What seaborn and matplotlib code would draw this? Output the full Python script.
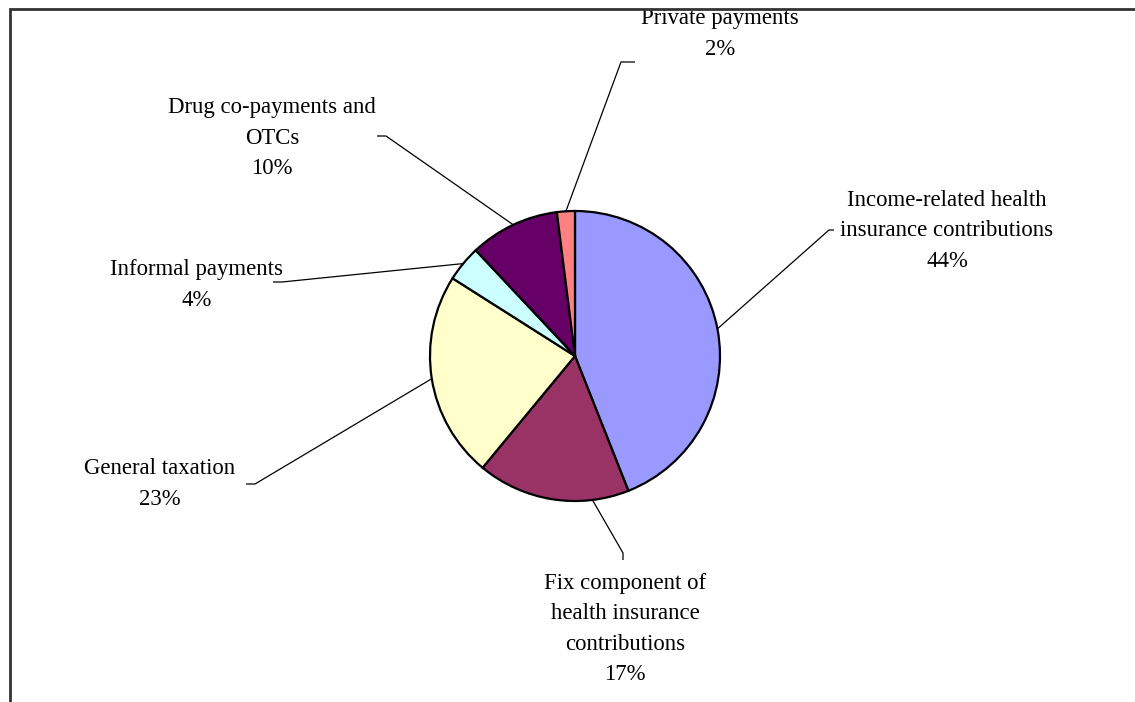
import matplotlib
matplotlib.use("Agg")
import matplotlib.pyplot as plt
import matplotlib.patches as mpatches
import numpy as np
import seaborn as sns

# Health financing sources (share of total, %)
categories = [
    "Income-related health\ninsurance contributions",
    "Fix component of\nhealth insurance\ncontributions",
    "General taxation",
    "Informal payments",
    "Drug co-payments and\nOTCs",
    "Private payments",
]
shares = [44, 17, 23, 4, 10, 2]
colors = ["#9999FF", "#993366", "#FFFFCC", "#CCFFFF", "#660066", "#FF8080"]

# Label layout in pixel space (x, y from top-left)
label_pos = [(947, 231), (625, 629), (160, 484), (197, 285), (272, 138), (720, 34)]
elbow_pos = [(829, 230), (623, 553), (255, 484), (282, 282), (386, 136), (621, 62)]
tick_end = [(834, 230), (623, 560), (246, 484), (273, 282), (377, 136), (635, 62)]
anchor_frac = [0.5, 0.24, 0.5, 0.5, 0.5, 0.5]

W, H = 1135, 702
sns.set_theme(style="white")
plt.rcParams["font.family"] = ["Liberation Serif", "DejaVu Serif"]

fig = plt.figure(figsize=(W / 100, H / 100), dpi=100)
ax = fig.add_axes([0, 0, 1, 1])

cx, cy, r = 575, H - 356, 145
wedges, _ = ax.pie(
    shares,
    colors=colors,
    startangle=90,
    counterclock=False,
    center=(cx, cy),
    radius=r,
    wedgeprops=dict(edgecolor="black", linewidth=1.6),
    frame=True,
)
ax.set_xlim(0, W)
ax.set_ylim(0, H)
ax.set_aspect("equal")
ax.axis("off")

for i, w in enumerate(wedges):
    a1, a2 = w.theta1, w.theta2
    # leader line starts on the rim of the wedge
    ang = np.deg2rad(a2 - (a2 - a1) * anchor_frac[i])
    sx, sy = cx + r * np.cos(ang), cy + r * np.sin(ang)
    ex, ey = elbow_pos[i]
    tx, ty = tick_end[i]
    ax.plot([sx, ex, tx], [sy, H - ey, H - ty], color="black", linewidth=0.9,
            solid_capstyle="butt")
    lx, ly = label_pos[i]
    ax.text(lx, H - ly, f"{categories[i]}\n{shares[i]}%", ha="center", va="center",
            fontsize=16.4, linespacing=1.6, color="black")

# Chart area border (extends past the right and bottom edges)
frame = mpatches.Rectangle((10 / W, -0.1), 1.2, (H - 9) / H + 0.1,
                           transform=fig.transFigure, fill=False,
                           edgecolor="#333333", linewidth=2.0, clip_on=False)
fig.patches.append(frame)

fig.savefig("out.png", dpi=100, facecolor="white")
